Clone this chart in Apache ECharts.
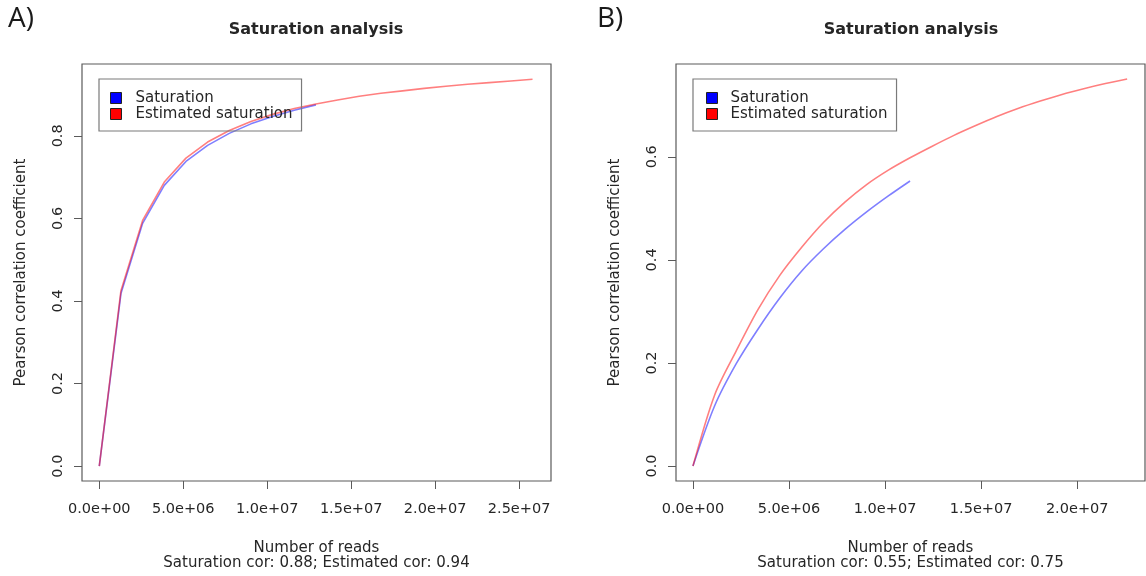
<!DOCTYPE html>
<html lang="en">
<head>
    <meta charset="UTF-8">
    <title>Saturation analysis</title>
    <style>
        html,body{margin:0;padding:0;background:#fff;}
        #main{width:1146px;height:576px;}
    </style>
</head>
<body>
<div id="main"></div>
<script src="https://cdn.jsdelivr.net/npm/echarts@6/dist/echarts.min.js"></script>
<script>
    // panel A
    const aSatX=[0,1.29e6,2.58e6,3.87e6,5.16e6,6.45e6,7.74e6,9.03e6,1.032e7,1.161e7,1.29e7]
    const aSatY=[0,0.418,0.588,0.680,0.738,0.777,0.806,0.829,0.847,0.862,0.875]
    const aEstX=[0,1.29e6,2.58e6,3.87e6,5.16e6,6.45e6,7.74e6,9.03e6,1.032e7,1.161e7,1.29e7,
        1.419e7,1.548e7,1.677e7,1.806e7,1.935e7,2.064e7,2.193e7,2.322e7,2.451e7,2.58e7]
    const aEstY=[0,0.425,0.595,0.688,0.746,0.785,0.813,0.835,0.852,0.866,0.877,
        0.887,0.896,0.903,0.909,0.915,0.920,0.925,0.929,0.933,0.937]
    // panel B
    const bSatX=[0,1.13e6,2.26e6,3.39e6,4.52e6,5.65e6,6.78e6,7.91e6,9.04e6,1.017e7,1.13e7]
    const bSatY=[0,0.117,0.199,0.266,0.326,0.378,0.421,0.459,0.493,0.524,0.553]
    const bEstX=[0,1.13e6,2.26e6,3.39e6,4.52e6,5.65e6,6.78e6,7.91e6,9.04e6,1.017e7,1.13e7,
        1.243e7,1.356e7,1.469e7,1.582e7,1.695e7,1.808e7,1.921e7,2.034e7,2.147e7,2.26e7]
    const bEstY=[0,0.138,0.224,0.304,0.370,0.424,0.472,0.512,0.546,0.574,0.598,
        0.620,0.641,0.660,0.678,0.694,0.708,0.721,0.732,0.742,0.751]

    const aXTicks=[0,5e6,1e7,1.5e7,2e7,2.5e7]
    const bXTicks=[0,5e6,1e7,1.5e7,2e7]
    const aYTicks=[0,0.2,0.4,0.6,0.8]
    const bYTicks=[0,0.2,0.4,0.6]
    const seriesNames=['Saturation','Estimated saturation']
    const subtitles=['Saturation cor: 0.88; Estimated cor: 0.94','Saturation cor: 0.55; Estimated cor: 0.75']

    const zip=(xs,ys)=>xs.map((x,i)=>[x,ys[i]])
    const font='DejaVu Sans'
    const txt='#262626'
    const axisGray='#5a5a5a'

    function sci(v){
        if(v===0) return '0.0e+00'
        const e=Math.floor(Math.log10(v))
        const m=(v/Math.pow(10,e)).toFixed(1)
        return m+'e+'+String(e).padStart(2,'0')
    }

    function xAxis(idx,min,max,ticks,sub){
        return {
            type:'value',gridIndex:idx,min,max,
            name:'Number of reads\n'+sub,
            nameLocation:'middle',nameGap:60,
            nameTextStyle:{fontFamily:font,fontSize:15,color:txt,lineHeight:15},
            axisLine:{show:false,onZero:false},
            axisTick:{show:true,length:8,customValues:ticks,lineStyle:{color:axisGray}},
            axisLabel:{customValues:ticks,formatter:sci,margin:21,fontFamily:font,fontSize:14.5,color:txt},
            splitLine:{show:false}
        }
    }
    function yAxis(idx,min,max,ticks){
        return {
            type:'value',gridIndex:idx,min,max,
            name:'Pearson correlation coefficient',
            nameLocation:'middle',nameGap:53,nameRotate:90,
            nameTextStyle:{fontFamily:font,fontSize:15,color:txt},
            axisLine:{show:false,onZero:false},
            axisTick:{show:true,length:8,customValues:ticks,lineStyle:{color:axisGray}},
            axisLabel:{customValues:ticks,rotate:90,margin:16,fontFamily:font,fontSize:14.5,color:txt,
                formatter:v=>v.toFixed(1)},
            splitLine:{show:false}
        }
    }
    function legend(left,pad,w){
        return {
            left,top:79,orient:'vertical',
            padding:pad,itemGap:0,itemWidth:w,itemHeight:11,
            borderColor:'#7a7a7a',borderWidth:1.2,borderRadius:0,
            icon:'path://M0,0L10,0L10,10L0,10Z',
            textStyle:{fontFamily:font,fontSize:15,color:txt,lineHeight:16},
            data:[
                {name:seriesNames[0],itemStyle:{color:'#0000ff',borderColor:'#222',borderWidth:1}},
                {name:seriesNames[1],itemStyle:{color:'#ff0000',borderColor:'#222',borderWidth:1}}
            ]
        }
    }
    function line(name,idx,data,color,smooth){
        return {
            name,type:'line',xAxisIndex:idx,yAxisIndex:idx,data,
            symbol:'none',smooth,
            lineStyle:{color,width:1.6},itemStyle:{color},
            emphasis:{disabled:true},silent:true,animation:false
        }
    }

    const myChart=echarts.init(document.getElementById('main'))
    const option={
        animation:false,
        title:[
            {text:'A)',left:8,top:5,padding:0,textStyle:{fontFamily:'Open Sans',fontSize:28,fontWeight:'normal',color:'#1a1a1a'}},
            {text:'Saturation analysis',left:316,top:22,padding:0,textAlign:'center',
                textStyle:{fontFamily:font,fontSize:16,fontWeight:'bold',color:txt}},
            {text:'B)',left:597,top:5,padding:0,textStyle:{fontFamily:'Open Sans',fontSize:28,fontWeight:'normal',color:'#1a1a1a'}},
            {text:'Saturation analysis',left:911,top:22,padding:0,textAlign:'center',
                textStyle:{fontFamily:font,fontSize:16,fontWeight:'bold',color:txt}}
        ],
        legend:[legend(99,[11,9,9,11],29),legend(693,[11,9,9,13],27)],
        grid:[
            {left:82,top:64,width:469,height:418,show:true,borderColor:axisGray,borderWidth:1.2,backgroundColor:'#fff'},
            {left:676,top:64,width:469,height:418,show:true,borderColor:axisGray,borderWidth:1.2,backgroundColor:'#fff'}
        ],
        xAxis:[xAxis(0,-1.03e6,2.69e7,aXTicks,subtitles[0]),xAxis(1,-0.883e6,2.353e7,bXTicks,subtitles[1])],
        yAxis:[yAxis(0,-0.036,0.974,aYTicks),yAxis(1,-0.029,0.78,bYTicks)],
        series:[
            line(seriesNames[0],0,zip(aSatX,aSatY),'rgba(0,0,255,0.5)',false),
            line(seriesNames[1],0,zip(aEstX,aEstY),'rgba(255,0,0,0.5)',false),
            line(seriesNames[0],1,zip(bSatX,bSatY),'rgba(0,0,255,0.5)',0.3),
            line(seriesNames[1],1,zip(bEstX,bEstY),'rgba(255,0,0,0.5)',0.3)
        ]
    }
    myChart.setOption(option)
</script>
</body>
</html>
